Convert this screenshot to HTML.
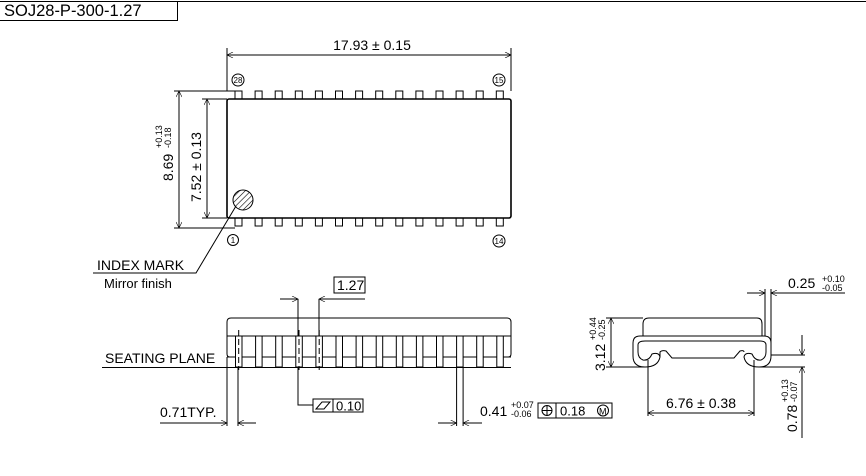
<!DOCTYPE html>
<html><head><meta charset="utf-8"><style>
html,body{margin:0;padding:0;background:#fff;}
svg{display:block;font-family:"Liberation Sans",sans-serif;}
text{fill:#000;}
</style></head><body>
<svg width="866" height="476" viewBox="0 0 866 476" xmlns="http://www.w3.org/2000/svg">
<defs>
<marker id="a" viewBox="0 0 10 10" refX="10" refY="5" markerWidth="10" markerHeight="6" orient="auto-start-reverse" markerUnits="userSpaceOnUse"><path d="M0 0 L10 5 L0 10" fill="none" stroke="#000" stroke-width="1"/></marker>
<pattern id="h" width="4" height="4" patternUnits="userSpaceOnUse" patternTransform="rotate(45)"><line x1="0" y1="0" x2="0" y2="4" stroke="#000" stroke-width="1.2"/></pattern>
</defs>
<g stroke="#000" fill="none" stroke-width="1">
<line x1="0" y1="1.5" x2="866" y2="1.5"/>
<polyline points="0,20.5 177.5,20.5 177.5,1.5"/>
<rect x="227" y="99" width="284" height="119" rx="2" stroke-width="1.6"/>
<g id="tp">
<rect x="235" y="91" width="7" height="8"/><rect x="255.1" y="91" width="7" height="8"/><rect x="275.2" y="91" width="7" height="8"/><rect x="295.3" y="91" width="7" height="8"/><rect x="315.4" y="91" width="7" height="8"/><rect x="335.5" y="91" width="7" height="8"/><rect x="355.6" y="91" width="7" height="8"/><rect x="375.7" y="91" width="7" height="8"/><rect x="395.8" y="91" width="7" height="8"/><rect x="415.9" y="91" width="7" height="8"/><rect x="436" y="91" width="7" height="8"/><rect x="456.1" y="91" width="7" height="8"/><rect x="476.2" y="91" width="7" height="8"/><rect x="496.3" y="91" width="7" height="8"/>
</g>
<use href="#tp" y="127"/>
<circle cx="243" cy="200" r="10" fill="url(#h)"/>
<line x1="227" y1="48" x2="227" y2="91"/><line x1="511" y1="48" x2="511" y2="91"/>
<line x1="227" y1="55" x2="511" y2="55" marker-start="url(#a)" marker-end="url(#a)"/>
<line x1="174" y1="91" x2="235" y2="91"/><line x1="174" y1="228" x2="235" y2="228"/>
<line x1="179" y1="91" x2="179" y2="228" marker-start="url(#a)" marker-end="url(#a)"/>
<line x1="202" y1="99" x2="227" y2="99"/><line x1="202" y1="218" x2="227" y2="218"/>
<line x1="207" y1="99" x2="207" y2="218" marker-start="url(#a)" marker-end="url(#a)"/>
<circle cx="238" cy="80" r="6"/><circle cx="499" cy="80" r="6"/>
<circle cx="233" cy="240" r="5.5"/><circle cx="499" cy="241" r="6"/>
<polyline points="236,206 196,273 93,273"/>
<path d="M227 336 V322 Q227 318 231 318 H507 Q511 318 511 322 V336 Z"/>
<path d="M227 336 V354 Q227 357 230 357 M511 336 V354 Q511 357 508 357"/>
<line x1="227" y1="357" x2="511" y2="357"/>
<line x1="102" y1="367.5" x2="511" y2="367.5"/>
<g>
<rect x="235.5" y="336" width="6.5" height="31" fill="#fff"/><rect x="255.6" y="336" width="6.5" height="31" fill="#fff"/><rect x="275.7" y="336" width="6.5" height="31" fill="#fff"/><rect x="295.8" y="336" width="6.5" height="31" fill="#fff"/><rect x="315.9" y="336" width="6.5" height="31" fill="#fff"/><rect x="336" y="336" width="6.5" height="31" fill="#fff"/><rect x="356.1" y="336" width="6.5" height="31" fill="#fff"/><rect x="376.2" y="336" width="6.5" height="31" fill="#fff"/><rect x="396.3" y="336" width="6.5" height="31" fill="#fff"/><rect x="416.4" y="336" width="6.5" height="31" fill="#fff"/><rect x="436.5" y="336" width="6.5" height="31" fill="#fff"/><rect x="456.6" y="336" width="6.5" height="31" fill="#fff"/><rect x="476.7" y="336" width="6.5" height="31" fill="#fff"/><rect x="496.8" y="336" width="6.5" height="31" fill="#fff"/>
</g>
<line x1="238.7" y1="330" x2="238.7" y2="370" stroke-dasharray="6,3"/>
<line x1="299" y1="330" x2="299" y2="370" stroke-dasharray="6,3"/>
<line x1="319.2" y1="330" x2="319.2" y2="370" stroke-dasharray="6,3"/>
<line x1="298" y1="299" x2="298" y2="336"/><line x1="319" y1="299" x2="319" y2="336"/>
<line x1="280" y1="299" x2="298" y2="299" marker-end="url(#a)"/>
<line x1="365" y1="299" x2="319" y2="299" marker-end="url(#a)"/>
<rect x="334" y="277" width="31" height="16"/>
<polyline points="298,367 298,405 313,405"/>
<rect x="313" y="399" width="50" height="13"/><line x1="333" y1="399" x2="333" y2="412"/>
<path d="M316 409 L322 402 H330 L324 409 Z"/>
<line x1="227" y1="357" x2="227" y2="426"/><line x1="238" y1="367" x2="238" y2="426"/>
<line x1="160" y1="423" x2="227" y2="423" marker-end="url(#a)"/>
<line x1="256" y1="423" x2="238" y2="423" marker-end="url(#a)"/>
<line x1="456.6" y1="367" x2="456.6" y2="426"/><line x1="463.1" y1="367" x2="463.1" y2="426"/>
<line x1="438" y1="423" x2="456.6" y2="423" marker-end="url(#a)"/>
<line x1="482" y1="423" x2="463.1" y2="423" marker-end="url(#a)"/>
<rect x="538" y="403" width="74" height="15"/><line x1="556" y1="403" x2="556" y2="418"/>
<circle cx="547" cy="410.5" r="5"/><line x1="542" y1="410.5" x2="552" y2="410.5"/><line x1="547" y1="405.5" x2="547" y2="415.5"/>
<circle cx="603" cy="410.5" r="5.5"/>
<path d="M643 336 V324 Q643 318 649 318 H757 Q762 318 762 324 V336"/>
<path d="M633 343 Q633 336 640 336 H764 Q771 336 771 343 V356 Q771 367 759 367 Q746 367 744 357 Q745 352 752 354 Q755 361 761 360 Q766 358 766 352 V345 Q766 341 760 341 H645 Q638 341 638 345 V352 Q638 358 643 360 Q649 361 652 354 Q659 352 660 357 Q658 367 645 367 Q633 367 633 356 Z"/>
<path d="M660 357 V352 Q662 350 666 351 L672 358 H734 L740 351 Q744 350 744 352"/>
<line x1="606" y1="318" x2="643" y2="318"/><line x1="606" y1="367" x2="645" y2="367"/>
<line x1="611" y1="318" x2="611" y2="367" marker-start="url(#a)" marker-end="url(#a)"/>
<line x1="765" y1="289" x2="765" y2="336"/><line x1="771" y1="289" x2="771" y2="343"/>
<line x1="747" y1="293" x2="765" y2="293" marker-end="url(#a)"/>
<line x1="845" y1="293" x2="771" y2="293" marker-end="url(#a)"/>
<line x1="771" y1="355" x2="805" y2="355"/><line x1="759" y1="367" x2="805" y2="367"/>
<line x1="802" y1="335" x2="802" y2="355" marker-end="url(#a)"/>
<line x1="802" y1="438" x2="802" y2="367" marker-end="url(#a)"/>
<line x1="648" y1="360" x2="648" y2="416"/><line x1="754" y1="360" x2="754" y2="416"/>
<line x1="648" y1="413" x2="754" y2="413" marker-start="url(#a)" marker-end="url(#a)"/>
</g>
<g font-size="14">
<text x="4" y="16" font-size="16.5">SOJ28-P-300-1.27</text>
<text x="372" y="50" text-anchor="middle">17.93 ± 0.15</text>
<text x="97" y="270">INDEX MARK</text>
<text x="104" y="288" font-size="13">Mirror finish</text>
<text x="105" y="363">SEATING PLANE</text>
<text x="337" y="290">1.27</text>
<text x="336" y="410.5" font-size="13">0.10</text>
<text x="160" y="417">0.71TYP.</text>
<text x="480" y="416">0.41</text>
<text x="511" y="408" font-size="9">+0.07</text>
<text x="511" y="417" font-size="9">-0.06</text>
<text x="560" y="415.5" font-size="13">0.18</text>
<text x="599" y="414.5" font-size="9">M</text>
<text x="788" y="288">0.25</text>
<text x="822" y="282" font-size="9">+0.10</text>
<text x="822" y="291" font-size="9">-0.05</text>
<text x="701" y="408" text-anchor="middle">6.76 ± 0.38</text>
<text transform="translate(173,181) rotate(-90)">8.69</text>
<text transform="translate(162,148) rotate(-90)" font-size="9">+0.13</text>
<text transform="translate(171,148) rotate(-90)" font-size="9">-0.18</text>
<text transform="translate(201,202) rotate(-90)">7.52 ± 0.13</text>
<text transform="translate(605,371) rotate(-90)">3.12</text>
<text transform="translate(596,340) rotate(-90)" font-size="9">+0.44</text>
<text transform="translate(605,340) rotate(-90)" font-size="9">-0.25</text>
<text transform="translate(797,432) rotate(-90)">0.78</text>
<text transform="translate(788,402) rotate(-90)" font-size="9">+0.13</text>
<text transform="translate(797,402) rotate(-90)" font-size="9">-0.07</text>
</g>
<g font-size="8" text-anchor="middle">
<text x="238" y="83">28</text><text x="499" y="83">15</text>
<text x="233" y="243">1</text><text x="499" y="244">14</text>
</g>
</svg>
</body></html>
